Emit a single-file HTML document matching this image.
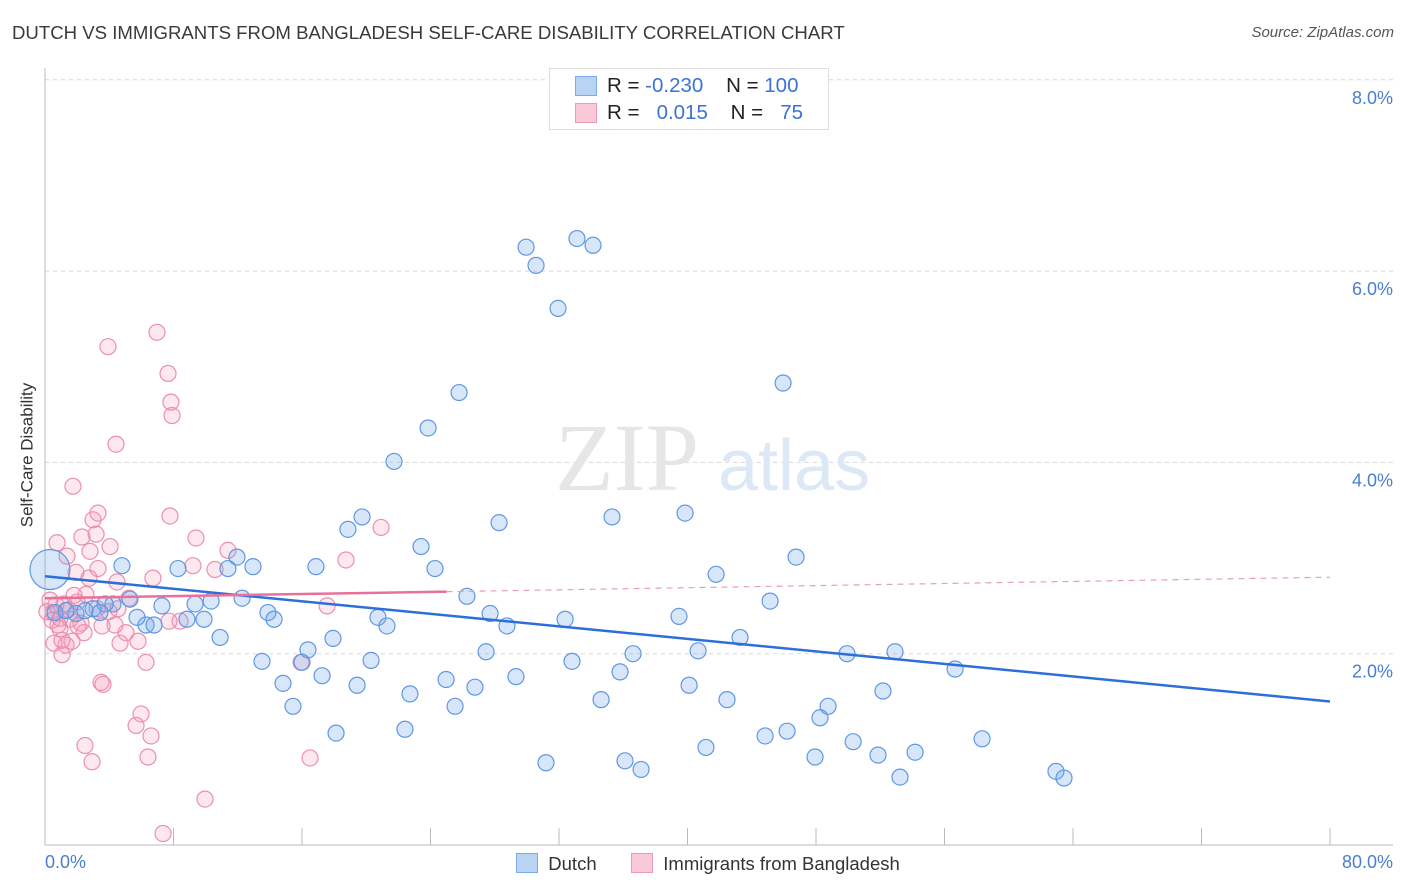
<!DOCTYPE html>
<html><head><meta charset="utf-8"><style>
body{margin:0;background:#fff;font-family:"Liberation Sans",sans-serif;}
#wrap{position:relative;width:1406px;height:892px;overflow:hidden;}
.t{position:absolute;white-space:nowrap;}
</style></head><body>
<div id="wrap">
<div class="t" style="left:12px;top:22px;font-size:18.6px;color:#3a3a3a;">DUTCH VS IMMIGRANTS FROM BANGLADESH SELF-CARE DISABILITY CORRELATION CHART</div>
<div class="t" style="right:12px;top:24px;font-size:15px;color:#555;font-style:italic;">Source: ZipAtlas.com</div>
<svg id="svg" width="1406" height="892" style="position:absolute;left:0;top:0"></svg>
</div>
<script>
const blueX=[29.95,30.57,33.12,34.12,31.94,45.95,25.78,23.85,21.73,28.27,35.30,39.85,18.86,19.74,23.41,46.76,24.28,41.78,16.87,12.95,11.95,11.39,8.28,4.79,26.27,45.14,27.71,28.76,32.38,39.47,43.27,13.88,14.26,10.34,9.34,7.28,8.84,9.90,6.29,6.79,5.73,5.29,4.23,3.74,2.99,1.93,0.62,12.27,20.73,21.29,10.90,17.93,16.37,27.46,36.61,40.66,49.93,52.92,56.66,13.51,16.00,20.30,32.81,35.80,14.82,17.25,19.43,24.97,26.77,29.32,40.10,52.17,22.72,34.62,42.46,15.44,25.53,48.75,48.25,18.12,22.41,41.15,44.83,46.20,50.31,54.17,51.86,58.34,47.94,31.19,36.11,37.11,53.23,62.94,63.44,1.31,2.49,3.42,0.31];
const blueY=[6.25,6.06,6.34,6.27,5.61,4.83,4.73,4.36,4.01,3.37,3.43,3.47,3.30,3.43,3.12,3.01,2.89,2.83,2.91,2.91,3.01,2.89,2.89,2.92,2.60,2.55,2.42,2.29,2.36,2.39,2.17,2.43,2.36,2.55,2.52,2.50,2.36,2.36,2.30,2.30,2.38,2.57,2.52,2.52,2.47,2.42,2.43,2.58,2.38,2.29,2.17,2.16,2.04,2.02,2.00,2.03,2.00,2.02,1.84,1.92,1.91,1.93,1.92,1.81,1.69,1.77,1.67,1.73,1.65,1.76,1.67,1.61,1.58,1.52,1.52,1.45,1.45,1.45,1.33,1.17,1.21,1.02,1.14,1.19,1.08,0.97,0.94,1.11,0.92,0.86,0.88,0.79,0.71,0.77,0.70,2.45,2.45,2.43,2.88];
const pinkX=[6.97,3.92,7.66,7.84,7.91,4.42,1.74,3.30,7.78,2.99,0.75,2.30,3.18,4.05,9.40,11.39,18.74,20.92,1.37,2.80,2.74,1.93,3.30,6.72,9.21,10.58,2.55,4.48,5.23,1.18,1.99,3.24,3.98,4.54,17.56,0.50,1.56,2.24,3.55,4.36,7.72,8.41,0.93,2.43,5.04,0.56,1.31,1.68,4.67,5.79,1.06,6.29,15.94,3.49,3.61,5.98,5.67,6.60,2.49,2.93,6.41,16.50,9.96,7.35,0.31,0.44,0.93,0.12,0.68,1.43,2.05,0.81,1.81,1.06];
const pinkY=[5.36,5.21,4.93,4.63,4.49,4.19,3.75,3.47,3.44,3.40,3.16,3.22,3.25,3.12,3.21,3.08,2.98,3.32,3.02,3.07,2.79,2.85,2.89,2.79,2.92,2.88,2.62,2.75,2.58,2.52,2.54,2.47,2.44,2.47,2.50,2.43,2.36,2.32,2.29,2.30,2.34,2.34,2.26,2.22,2.22,2.11,2.09,2.13,2.11,2.13,1.99,1.91,1.91,1.70,1.68,1.37,1.25,1.14,1.04,0.87,0.92,0.91,0.48,0.12,2.56,2.35,2.37,2.44,2.51,2.46,2.29,2.30,2.61,2.14];
const yTicks=[2,4,6,8];
const yTickLabels=["2.0%","4.0%","6.0%","8.0%"];
const blueTrend=[2.81,1.50];
const pinkTrend=[2.58,2.80];
const pinkSolidEnd=25;

const X0=45,X1=1330,Y0=845,PY=95.65;
const sx=v=>X0+(v/80)*(X1-X0);
const sy=v=>Y0-v*PY;
const svg=document.getElementById('svg');
const NS='http://www.w3.org/2000/svg';
function mk(tag,at){const e=document.createElementNS(NS,tag);for(const k in at)e.setAttribute(k,at[k]);svg.appendChild(e);return e;}

yTicks.forEach((v,i)=>{
 const g=mk('line',{x1:X0,x2:1393,y1:sy(v),y2:sy(v),stroke:'#d8d8d8','stroke-dasharray':'4,4'});
 
 
 const t=mk('text',{x:1393,y:sy(v)+24,'text-anchor':'end','font-size':18,fill:'#4a7fd0','font-family':'Liberation Sans'});
 t.textContent=yTickLabels[i];
 
 
});
const ax=mk('line',{x1:X0,x2:X0,y1:68,y2:Y0,stroke:'#bbb'});


const bx=mk('line',{x1:X0,x2:1393,y1:Y0,y2:Y0,stroke:'#bbb'});


for(let v=8;v<=80;v+=8){
 const tk=mk('line',{x1:sx(v),x2:sx(v),y1:828,y2:Y0,stroke:'#bbb'});
 
 
}
const wm=mk('text',{x:555,y:490,'font-size':96,fill:'#e6e6e6','font-family':'Liberation Serif'});
wm.textContent='ZIP';


const wm2=mk('text',{x:718,y:490,'font-size':72,fill:'#dde8f6','font-family':'Liberation Sans'});
wm2.textContent='atlas';



pinkX.forEach((x,i)=>{
 const c=mk('circle',{cx:sx(x),cy:sy(pinkY[i]),r:8,fill:'rgba(244,150,180,0.22)',stroke:'#ec8fae','stroke-width':1.2});
 
 
});
blueX.forEach((x,i)=>{
 const big=i===blueX.length-1;
 const c=mk('circle',{cx:sx(x),cy:sy(blueY[i]),r:big?20:8,fill:'rgba(110,165,235,0.28)',stroke:'#5f98e2','stroke-width':1.2});
 
 
});
const bt=mk('line',{x1:sx(0),y1:sy(blueTrend[0]),x2:sx(80),y2:sy(blueTrend[1]),stroke:'#2d6fd9','stroke-width':2.5});


const pAt=v=>pinkTrend[0]+(pinkTrend[1]-pinkTrend[0])*v/80;
const pt=mk('line',{x1:sx(0),y1:sy(pAt(0)),x2:sx(pinkSolidEnd),y2:sy(pAt(pinkSolidEnd)),stroke:'#e8709a','stroke-width':2.5});


const pd=mk('line',{x1:sx(pinkSolidEnd),y1:sy(pAt(pinkSolidEnd)),x2:sx(80),y2:sy(pAt(80)),stroke:'#e8a0b8','stroke-width':1.2,'stroke-dasharray':'6,5'});


</script>
<div class="t" style="left:45px;top:852px;font-size:18px;color:#4a7fd0;">0.0%</div>
<div class="t" style="right:13px;top:852px;font-size:18px;color:#4a7fd0;">80.0%</div>
<div class="t" style="left:-45px;top:445px;font-size:17px;color:#333;transform:rotate(-90deg);">Self-Care Disability</div>
<div style="position:absolute;left:549px;top:68px;width:278px;height:60px;border:1px solid #ddd;background:#fff;font-size:20.5px;">
 <div style="position:absolute;left:25px;top:7px;width:20px;height:18px;background:#b9d3f5;border:1px solid #7eaae8;"></div>
 <div style="position:absolute;left:25px;top:34px;width:20px;height:18px;background:#f9c8d7;border:1px solid #ef9ab5;"></div>
 <div class="t" style="left:57px;top:5px;color:#222;">R = <span style="color:#3a72d6">-0.230</span>&nbsp;&nbsp;&nbsp;&nbsp;N = <span style="color:#3a72d6">100</span></div>
 <div class="t" style="left:57px;top:32px;color:#222;">R = &nbsp;&nbsp;<span style="color:#3a72d6">0.015</span>&nbsp;&nbsp;&nbsp;&nbsp;N = &nbsp;&nbsp;<span style="color:#3a72d6">75</span></div>
</div>
<div style="position:absolute;left:516px;top:853px;font-size:18.5px;color:#333;">
 <span style="display:inline-block;width:20px;height:18px;background:#b9d3f5;border:1px solid #7eaae8;vertical-align:-3px;"></span>&nbsp; Dutch</div>
<div style="position:absolute;left:631px;top:853px;font-size:18.5px;color:#333;">
 <span style="display:inline-block;width:20px;height:18px;background:#f9c8d7;border:1px solid #ef9ab5;vertical-align:-3px;"></span>&nbsp; Immigrants from Bangladesh</div>
</body></html>
